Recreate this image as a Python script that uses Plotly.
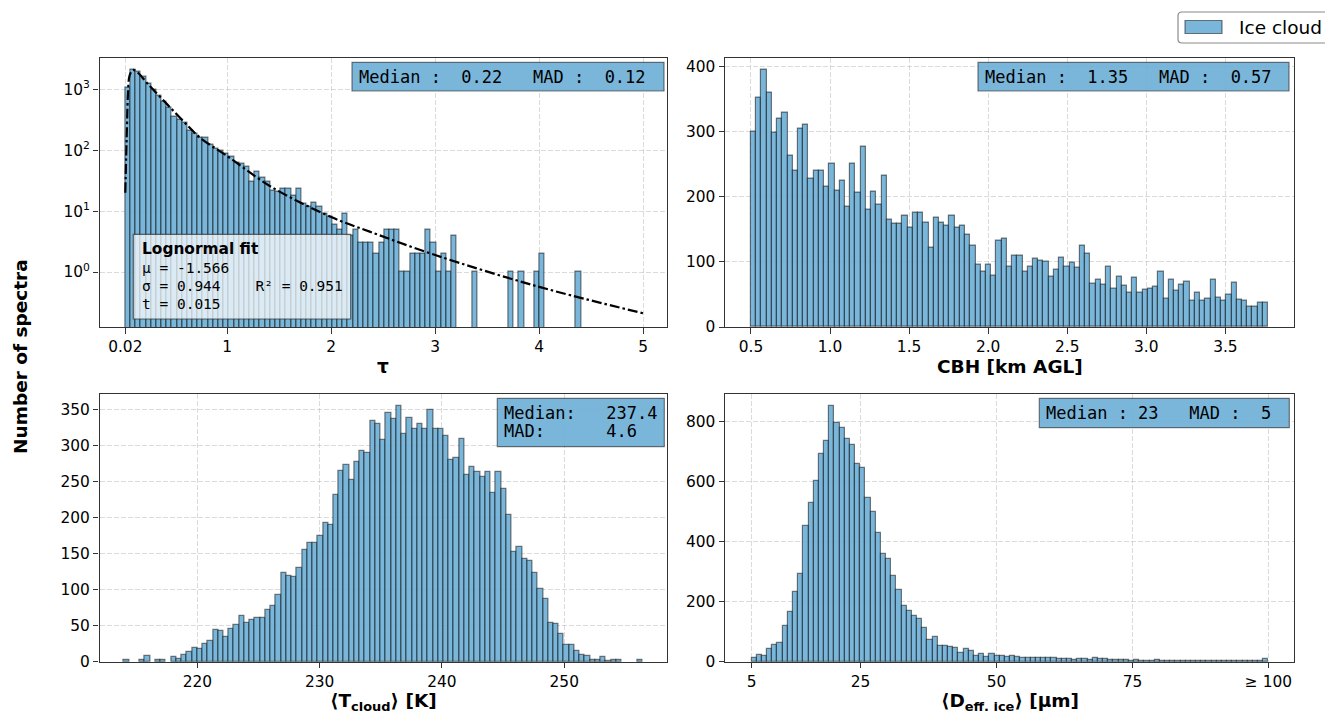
import numpy as np
import plotly.graph_objects as go

W, H = 1325, 713

# ---------------- data ----------------
# Panel 1: optical depth tau (log y), 100 bins from 0.02 to 5
tau_lo, tau_hi = 0.02, 5.0
tau_counts = [1050, 2100, 1950, 1600, 1250, 1000, 800, 630, 500, 360,
              315, 280, 210, 185, 158, 160, 122, 107, 98, 87,
              78, 62, 59, 54, 30, 44, 35, 30, 22, 21,
              23, 23, 18, 23, 13, 12, 14, 12, 9, 8,
              6, 5, 9, 4, 5, 3, 3, 3, 2, 3,
              5, 5, 5, 1, 1, 2, 2, 2, 5, 3,
              1, 2, 1, 4, 0, 0, 0, 1, 0, 0,
              0, 0, 0, 0, 1, 0, 1, 0, 0, 1,
              2, 0, 0, 0, 0, 0, 0, 1, 0, 0,
              0, 0, 0, 0, 0, 0, 0, 0, 0, 0]
# lognormal fit curve
fit_x = [0.02, 0.036, 0.046, 0.062, 0.094, 0.142, 0.238, 0.43, 0.623,
         0.74, 1.0, 1.424, 2.0, 2.37, 3.0, 4.0, 5.0]
fit_y = [20, 240, 850, 1700, 2080, 1870, 1220, 550, 250,
         160, 80, 25, 8, 4.6, 1.9, 0.57, 0.21]

# Panel 2: cloud base height
cbh_lo, cbh_hi = 0.5, 3.77
cbh_counts = [300, 351, 394, 360, 298, 320, 329, 263, 240, 304,
              310, 228, 240, 240, 215, 251, 209, 224, 184, 250,
              206, 276, 180, 207, 188, 232, 165, 159, 159, 170,
              153, 175, 175, 160, 122, 168, 160, 155, 171, 153,
              155, 142, 125, 95, 85, 96, 79, 132, 136, 93,
              110, 109, 85, 92, 104, 101, 100, 77, 88, 107,
              92, 99, 91, 124, 112, 67, 72, 65, 93, 59,
              77, 63, 52, 76, 53, 57, 59, 62, 85, 43,
              73, 55, 65, 69, 41, 53, 40, 43, 72, 45,
              41, 50, 68, 42, 40, 31, 31, 37, 38]

# Panel 3: cloud temperature
t_lo, t_hi = 214.0, 256.4
t_counts = [2, 0, 0, 3, 8, 0, 2, 2, 0, 7,
            4, 10, 14, 19, 17, 24, 29, 44, 42, 35,
            45, 51, 64, 54, 58, 61, 61, 72, 78, 93,
            123, 119, 118, 130, 155, 165, 165, 174, 193, 190,
            232, 265, 273, 252, 277, 293, 290, 335, 331, 308,
            345, 337, 355, 317, 339, 324, 330, 323, 350, 324,
            324, 313, 280, 283, 309, 259, 271, 263, 257, 264,
            235, 264, 240, 204, 153, 159, 143, 140, 123, 101,
            87, 54, 52, 38, 23, 23, 15, 9, 8, 3,
            2, 6, 1, 2, 2, 0, 0, 0, 3]

# Panel 4: effective ice diameter
d_lo, d_hi = 5.0, 100.0
d_counts = [13, 22, 19, 44, 56, 63, 120, 166, 231, 291,
            452, 530, 603, 692, 737, 852, 797, 780, 742, 722,
            661, 647, 547, 500, 428, 359, 341, 286, 239, 186,
            170, 153, 143, 114, 74, 81, 54, 52, 50, 47,
            30, 42, 37, 19, 26, 17, 26, 19, 20, 17,
            20, 15, 13, 13, 12, 14, 14, 12, 12, 10,
            8, 8, 6, 8, 8, 6, 12, 8, 9, 7,
            6, 5, 6, 4, 5, 3, 4, 3, 5, 3,
            3, 2, 3, 2, 2, 3, 1, 2, 2, 1,
            3, 2, 1, 2, 1, 2, 1, 2, 1, 9]

tau_ticks = [0.02, 1, 2, 3, 4, 5]
tau_ticktext = ["0.02", "1", "2", "3", "4", "5"]
d_ticks = [5, 25, 50, 75, 100]
d_ticktext = ["5", "25", "50", "75", "≥ 100"]
log_ticks = [1, 10, 100, 1000]
log_ticktext = ["10<sup>0</sup>", "10<sup>1</sup>", "10<sup>2</sup>", "10<sup>3</sup>"]

x_titles = ["τ", "CBH [km AGL]", "⟨T<sub>cloud</sub>⟩ [K]", "⟨D<sub>eff. ice</sub>⟩ [μm]"]
y_title = "Number of spectra"
legend_label = "Ice cloud"

stats_tau = "Median :  0.22   MAD :  0.12"
stats_cbh = "Median :  1.35   MAD :  0.57"
stats_t = ["Median:   237.4", "MAD:      4.6"]
stats_d = "Median : 23   MAD :  5"
fit_title = "Lognormal fit"
fit_lines = ["μ = -1.566", "σ = 0.944    R² = 0.951", "t = 0.015"]

# ---------------- helpers ----------------
def px(x):
    return x / W


def py(y):
    return 1 - y / H


def nb(s):
    return s.replace(" ", "\u00a0")


def hist_xy(lo, hi, counts):
    edges = np.linspace(lo, hi, len(counts) + 1)
    centers = (edges[:-1] + edges[1:]) / 2
    width = edges[1] - edges[0]
    ys = [c if c > 0 else None for c in counts]
    return centers, ys, width


BAR_FILL = "rgba(107,174,214,0.9)"
BAR_EDGE = "rgba(0,0,0,0.5)"
SANS = "DejaVu Sans"
MONO = "DejaVu Sans Mono"
TICK_PX = 15.4
LABEL_PX = 18.5

fig = go.Figure()

panels = [
    (tau_lo, tau_hi, tau_counts, "x", "y"),
    (cbh_lo, cbh_hi, cbh_counts, "x2", "y2"),
    (t_lo, t_hi, t_counts, "x3", "y3"),
    (d_lo, d_hi, d_counts, "x4", "y4"),
]
for lo, hi, counts, xa, ya in panels:
    cx, cy, w = hist_xy(lo, hi, counts)
    fig.add_trace(go.Bar(
        x=cx, y=cy, width=w, xaxis=xa, yaxis=ya,
        marker=dict(color=BAR_FILL, line=dict(color=BAR_EDGE, width=1.2)),
        name=legend_label, showlegend=False,
    ))

fig.add_trace(go.Scatter(
    x=fit_x, y=fit_y, xaxis="x", yaxis="y", mode="lines",
    line=dict(color="black", width=2.2, dash="10px,3px,2.5px,3px", shape="spline", smoothing=1.0),
    showlegend=False,
))

axis_common = dict(
    showline=True, mirror=True, linecolor="#333", linewidth=1.2,
    ticks="outside", ticklen=5.4, tickwidth=1.2, tickcolor="#333",
    showgrid=True, gridcolor="rgba(176,176,176,0.45)", gridwidth=1, griddash="5px,2px",
    zeroline=False, automargin=False,
    tickfont=dict(family=SANS, size=TICK_PX, color="black"),
)

xd_left = [px(99.5), px(667)]
xd_right = [px(725), px(1294)]
yd_top = [py(327), py(57.7)]
yd_bot = [py(661.7), py(394)]

fig.update_layout(
    xaxis=dict(axis_common, domain=xd_left, anchor="y", range=[-0.228, 5.229],
               tickvals=tau_ticks, ticktext=tau_ticktext),
    yaxis=dict(axis_common, domain=yd_top, anchor="x", type="log", range=[-0.903, 3.519],
               tickvals=log_ticks, ticktext=log_ticktext),
    xaxis2=dict(axis_common, domain=xd_right, anchor="y2", range=[0.336, 3.934],
                tick0=0.5, dtick=0.5, tickformat=".1f"),
    yaxis2=dict(axis_common, domain=yd_top, anchor="x2", range=[0, 413], dtick=100),
    xaxis3=dict(axis_common, domain=xd_left, anchor="y3", range=[212.0, 258.4],
                tick0=220, dtick=10),
    yaxis3=dict(axis_common, domain=yd_bot, anchor="x3", range=[0, 372], dtick=50),
    xaxis4=dict(axis_common, domain=xd_right, anchor="y4", range=[0.1, 104.7],
                tickvals=d_ticks, ticktext=d_ticktext),
    yaxis4=dict(axis_common, domain=yd_bot, anchor="x4", range=[0, 893], dtick=200),
    bargap=0,
    width=W, height=H,
    margin=dict(l=0, r=0, t=0, b=0, autoexpand=False),
    paper_bgcolor="white", plot_bgcolor="white",
    font=dict(family=SANS, color="black"),
    showlegend=False,
)

shapes = []
annos = []

def box(x0, y0, x1, y1, fill, line):
    shapes.append(dict(type="rect", xref="paper", yref="paper",
                       x0=px(x0), x1=px(x1), y0=py(y1), y1=py(y0),
                       fillcolor=fill, line=dict(color=line, width=1.2), layer="above"))

def text(x, y, s, size, family=MONO, anchor="left"):
    annos.append(dict(xref="paper", yref="paper", x=px(x), y=py(y), text=s,
                      showarrow=False, xanchor=anchor, yanchor="middle",
                      font=dict(family=family, size=size, color="black")))

STAT_FILL = "rgba(107,174,214,0.9)"
STAT_EDGE = "rgba(40,40,40,0.6)"

box(352, 62.3, 664, 91, STAT_FILL, STAT_EDGE)
text(357, 76.5, nb(stats_tau), 17)
box(978, 62.3, 1289, 91, STAT_FILL, STAT_EDGE)
text(983, 76.5, nb(stats_cbh), 17)
box(497.3, 398.3, 664.3, 446.7, STAT_FILL, STAT_EDGE)
text(502, 412.7, nb(stats_t[0]), 17)
text(502, 430.5, nb(stats_t[1]), 17)
box(1039.3, 398.3, 1289.3, 427.7, STAT_FILL, STAT_EDGE)
text(1044, 413, nb(stats_d), 17)

box(133.3, 234.3, 350.7, 319, "rgba(255,255,255,0.72)", "rgba(40,40,40,0.7)")
text(139.5, 249.3, "<b>" + fit_title + "</b>", 15.4, SANS)
for i, s in enumerate(fit_lines):
    text(139.5, 268.3 + i * 17.7, nb(s), 14.5)

# axis titles
cx_left = (99.5 + 667) / 2
cx_right = (725 + 1294) / 2
for (xc, yc), t in zip([(cx_left, 367), (cx_right, 367), (cx_left, 702), (cx_right, 702)], x_titles):
    text(xc, yc, "<b>" + t + "</b>", LABEL_PX, SANS, anchor="center")

annos.append(dict(xref="paper", yref="paper", x=px(20), y=py(357), text="<b>" + y_title + "</b>",
                  textangle=-90, showarrow=False, xanchor="center", yanchor="middle",
                  font=dict(family=SANS, size=LABEL_PX, color="black")))

# legend (frame, patch, label)
r = 4
lx0, ly0, lx1, ly1 = 1178, 12, 1332, 43
path = (f"M {px(lx0 + r)},{py(ly0)} L {px(lx1)},{py(ly0)} L {px(lx1)},{py(ly1)} "
        f"L {px(lx0 + r)},{py(ly1)} Q {px(lx0)},{py(ly1)} {px(lx0)},{py(ly1 - r)} "
        f"L {px(lx0)},{py(ly0 + r)} Q {px(lx0)},{py(ly0)} {px(lx0 + r)},{py(ly0)} Z")
shapes.append(dict(type="path", xref="paper", yref="paper", path=path,
                   fillcolor="white", line=dict(color="#8a8a8a", width=1.2), layer="above"))
shapes.append(dict(type="rect", xref="paper", yref="paper",
                   x0=px(1185), x1=px(1222), y0=py(33.5), y1=py(20.5),
                   fillcolor=BAR_FILL, line=dict(color=BAR_EDGE, width=1.2), layer="above"))
text(1237, 27.5, legend_label, LABEL_PX, SANS)

fig.update_layout(shapes=shapes, annotations=annos)

fig.write_html("out.html")
